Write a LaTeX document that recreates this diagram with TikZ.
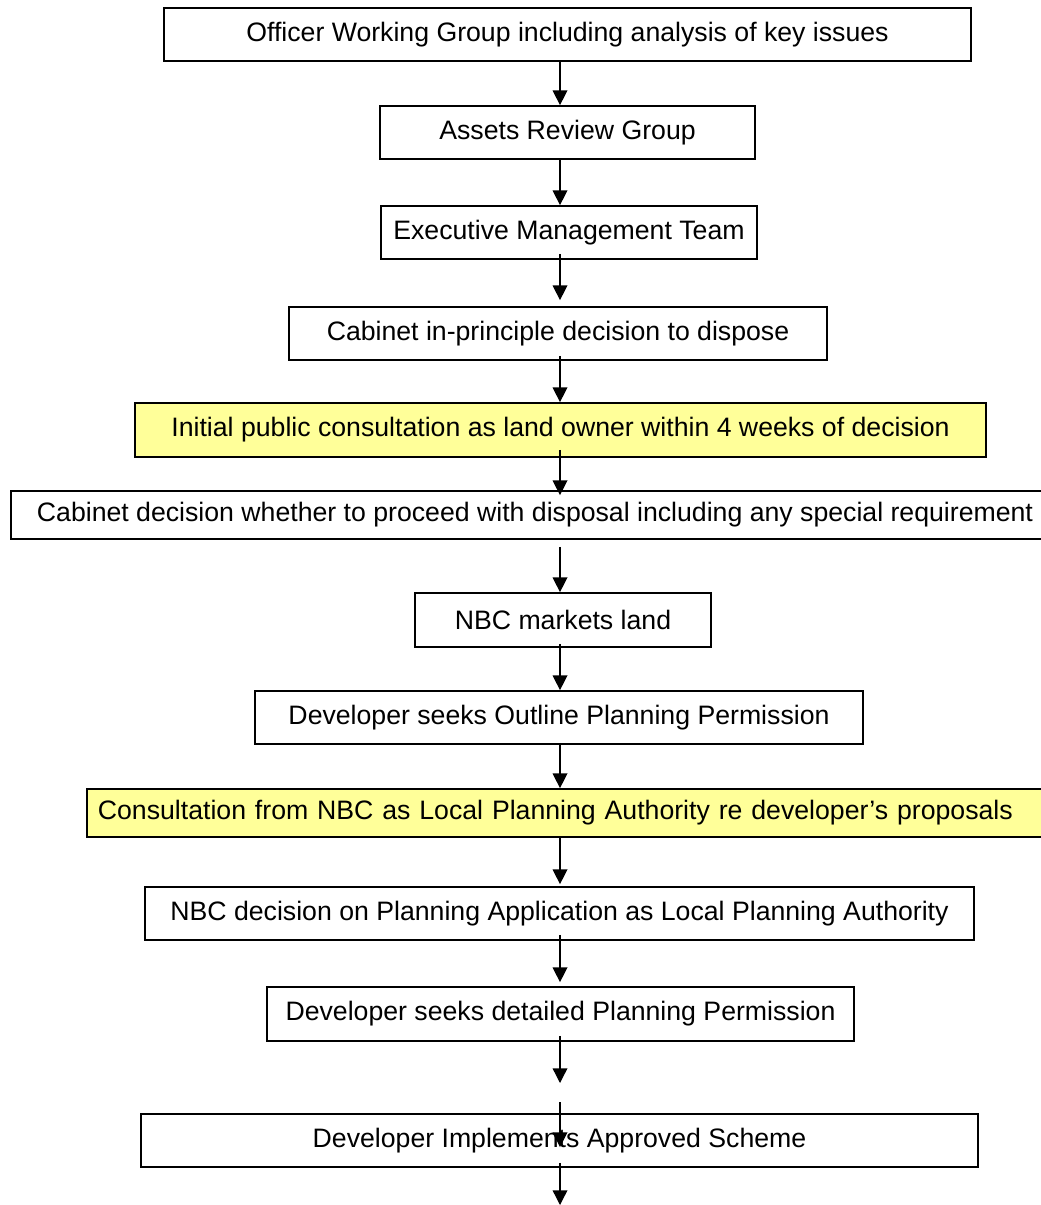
\documentclass[tikz,border=0pt]{standalone}
\usepackage{fontspec}
\setmainfont{Liberation Sans}
\usetikzlibrary{arrows.meta}
\definecolor{noteyellow}{RGB}{255,255,153}

\begin{document}
\begin{tikzpicture}[x=0.75pt,y=-0.75pt,
    >={Triangle[length=11pt,width=11pt]},
    box/.style={draw=black,line width=1.3pt,minimum height=39.75pt,inner sep=0pt,
        font=\fontsize{20pt}{24pt}\selectfont},
    yellowbox/.style={box,fill=noteyellow},
    flow/.style={line width=1pt}]
    \useasboundingbox (0,0) rectangle (1040,1205);

    \node[box,minimum width=605.25pt] (1) at (567.5,34.5) {Officer Working Group including analysis of key issues};
    \node[box,minimum width=281.25pt] (2) at (567.5,132.5) {Assets Review Group};
    \node[box,minimum width=282pt] (3) at (569,232.5) {Executive Management Team};
    \node[box,minimum width=403.5pt] (4) at (558,333.5) {Cabinet in-principle decision to dispose};
    \node[yellowbox,minimum width=638.25pt,minimum height=40.5pt] (5) at (560.5,430) {Initial public consultation as land owner within 4 weeks of decision};
    \node[box,minimum width=786pt,minimum height=36pt] (6) at (535,515) {Cabinet decision whether to proceed with disposal including any special requirement};
    \node[box,minimum width=222pt,minimum height=40.5pt] (7) at (563,620) {NBC markets land};
    \node[box,minimum width=456pt] (8) at (559,717.5) {Developer seeks Outline Planning Permission};
    \node[yellowbox,anchor=west,minimum height=36pt,inner xsep=8.25pt,text width=706.5pt,align=left] (9) at (86,813) {Consultation from NBC as Local Planning Authority re developer’s proposals};
    \node[box,minimum width=621.75pt] (10) at (559.5,913.5) {NBC decision on Planning Application as Local Planning Authority};
    \node[box,minimum width=440.25pt,minimum height=40.5pt] (11) at (560.5,1014) {Developer seeks detailed Planning Permission};
    \node[box,minimum width=627.75pt] (12) at (559.5,1140.5) {Developer Implements Approved Scheme};

    \coordinate (axis) at (560,0);
    \coordinate (c1) at (560,1083);
    \coordinate (c2) at (560,1102);
    \coordinate (c3) at (560,1205);

    \path [flow,->] (1.south -| axis) edge (2.north -| axis);
    \path [flow,->] (2.south -| axis) edge (3.north -| axis);
    \path [flow,->] (3.south -| axis)
            edge [shorten <=-4.5pt,shorten >=4.5pt] (4.north -| axis);
    \path [flow,->] (4.south -| axis)
            edge [shorten <=-3.75pt] (5.north -| axis);
    \path [flow,->] (5.south -| axis)
            edge [shorten <=-6pt,shorten >=-3.75pt] (6.north -| axis);
    \path [flow,->] (6.south -| axis)
            edge [shorten <=5.25pt] (7.north -| axis);
    \path [flow,->] (7.south -| axis)
            edge [shorten <=-3pt] (8.north -| axis);
    \path [flow,->] (8.south -| axis)
            edge [shorten <=-1.5pt] (9.north -| axis);
    \path [flow,->] (9.south -| axis)
            edge [shorten >=1.5pt] (10.north -| axis);
    \path [flow,->] (10.south -| axis)
            edge [shorten <=-4.5pt,shorten >=3pt] (11.north -| axis);
    \path [flow,->] (11.south -| axis)
            edge [shorten <=-4.5pt] (c1);
    \path [flow,->] (c2)
            edge [shorten >=-25.5pt] (12.north -| axis);
    \path [flow,->] (12.south -| axis)
            edge [shorten <=-3.75pt] (c3);
\end{tikzpicture}
\end{document}
